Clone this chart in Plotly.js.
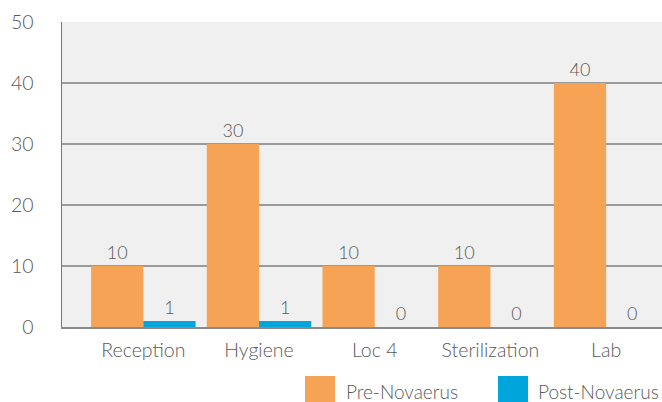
<!DOCTYPE html>
<html>
<head>
<meta charset="utf-8">
<script src="https://cdn.plot.ly/plotly-3.0.1.min.js"></script>
<style>html,body{margin:0;padding:0;background:#fff}#chart{width:662px;height:402px}</style>
</head>
<body>
<div id="chart"></div>
<script>
const categories = ["Reception", "Hygiene", "Loc 4", "Sterilization", "Lab"];
const preValues = [10, 30, 10, 10, 40];
const postValues = [1, 1, 0, 0, 0];
const seriesNames = ["Pre-Novaerus", "Post-Novaerus"];
const yTicks = [0, 10, 20, 30, 40, 50];

const orange = "#F7A355";
const blue = "#00A5DC";
const fontFam = "Lato, 'Open Sans', sans-serif";
const grey = "#5a5a5a";
const W = 300;

const traces = [
  {type: "bar", name: seriesNames[0], x: categories, y: preValues,
   marker: {color: orange}, text: preValues.map(String), textposition: "outside",
   textfont: {family: fontFam, size: 18, color: grey, weight: W}, cliponaxis: false},
  {type: "bar", name: seriesNames[1], x: categories, y: postValues,
   marker: {color: blue}, text: postValues.map(String), textposition: "outside",
   textfont: {family: fontFam, size: 18, color: grey, weight: W}, cliponaxis: false}
];

const layout = {
  width: 662, height: 402,
  margin: {l: 62, r: 0, t: 22, b: 75},
  paper_bgcolor: "#ffffff",
  plot_bgcolor: "#F0F0F0",
  barmode: "group",
  bargap: 0.097,
  bargroupgap: 0,
  showlegend: false,
  font: {family: fontFam, color: grey, weight: W},
  xaxis: {
    type: "category", range: [-0.703, 4.483],
    showline: true, linecolor: "#8a8a8a", linewidth: 2,
    ticks: "", ticklabelstandoff: 5,
    tickfont: {size: 19.5, color: grey, family: fontFam, weight: W},
    showgrid: false, fixedrange: true
  },
  yaxis: {
    range: [0, 50], tickvals: yTicks, ticktext: yTicks.map(String),
    showline: true, linecolor: "#777777", linewidth: 1.5,
    gridcolor: "#9a9a9a", gridwidth: 1.5, zeroline: false,
    ticks: "", ticklabelstandoff: 23,
    tickfont: {size: 19.5, color: grey, family: fontFam, weight: W}, fixedrange: true
  },
  shapes: [
    {type: "rect", xref: "paper", yref: "paper", x0: (305-62)/600, x1: (335-62)/600, y0: -75/305, y1: (327-376)/305, fillcolor: orange, line: {width: 0}},
    {type: "rect", xref: "paper", yref: "paper", x0: (498-62)/600, x1: (528-62)/600, y0: -75/305, y1: (327-376)/305, fillcolor: blue, line: {width: 0}}
  ],
  annotations: [
    {xref: "paper", yref: "paper", x: (344-62)/600, y: (327-391)/305, xanchor: "left", yanchor: "middle", showarrow: false, text: seriesNames[0], font: {size: 19, color: grey, family: fontFam, weight: W}},
    {xref: "paper", yref: "paper", x: (536-62)/600, y: (327-391)/305, xanchor: "left", yanchor: "middle", showarrow: false, text: seriesNames[1], font: {size: 19, color: grey, family: fontFam, weight: W}}
  ]
};

Plotly.newPlot("chart", traces, layout, {displayModeBar: false, staticPlot: true});
</script>
</body>
</html>
